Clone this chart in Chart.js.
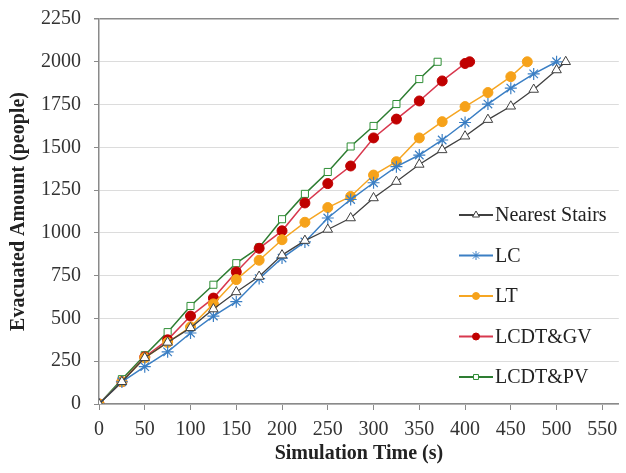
<!DOCTYPE html>
<html>
<head>
<meta charset="utf-8">
<script src="https://cdn.jsdelivr.net/npm/chart.js"></script>
<style>
  body { margin: 0; background: #fff; }
  #wrap { width: 626px; height: 473px; }
</style>
</head>
<body>
<div id="wrap"><canvas id="evac" width="626" height="473"></canvas></div>
<script>
// values (time in s, people evacuated)
const seriesNames = ["Nearest Stairs", "LC", "LT", "LCDT&GV", "LCDT&PV"];

const nsTime = [0, 25, 50, 75, 100, 125, 150, 175, 200, 225, 250, 275, 300, 325, 350, 375, 400, 425, 450, 475, 500, 510];
const nsValues = [0, 130, 270, 360, 445, 555, 655, 745, 870, 955, 1020, 1087, 1204, 1300, 1400, 1485, 1565, 1662, 1740, 1838, 1952, 2000];

const lcTime = [0, 25, 50, 75, 100, 125, 150, 175, 200, 225, 250, 275, 300, 325, 350, 375, 400, 425, 450, 475, 500];
const lcValues = [0, 130, 218, 305, 415, 514, 598, 733, 853, 947, 1087, 1195, 1293, 1387, 1455, 1543, 1645, 1753, 1846, 1929, 2000];

const ltTime = [0, 25, 50, 75, 100, 125, 150, 175, 200, 225, 250, 275, 300, 325, 350, 375, 400, 425, 450, 468];
const ltValues = [0, 130, 270, 360, 450, 585, 727, 840, 960, 1062, 1148, 1213, 1338, 1416, 1555, 1650, 1738, 1820, 1913, 2000];

const gvTime = [0, 25, 50, 75, 100, 125, 150, 175, 200, 225, 250, 275, 300, 325, 350, 375, 400, 405];
const gvValues = [0, 130, 275, 375, 514, 619, 772, 910, 1012, 1175, 1288, 1391, 1555, 1665, 1771, 1888, 1990, 2000];

const pvTime = [0, 25, 50, 75, 100, 125, 150, 175, 200, 225, 250, 275, 300, 325, 350, 370];
const pvValues = [0, 145, 285, 420, 573, 697, 823, 915, 1080, 1228, 1356, 1505, 1625, 1753, 1899, 2000];

const xTicks = { min: 0, max: 568, step: 50 };
const yTicks = { min: 0, max: 2250, step: 250 };

function pts(t, v) {
  return t.map((x, i) => ({ x: x, y: v[i] }));
}

const serif = "'Liberation Serif', 'Times New Roman', serif";

// legend drawn inside the plot, like the original
const insideLegend = {
  id: "insideLegend",
  afterDatasetsDraw(chart) {
    const ctx = chart.ctx;
    const a = chart.chartArea;
    const x0 = a.left + 360, x1 = a.left + 394;
    let y = 215;
    ctx.save();
    ctx.font = "20px " + serif;
    ctx.textBaseline = "middle";
    ctx.textAlign = "left";
    chart.data.datasets.forEach(ds => {
      ctx.strokeStyle = ds.borderColor;
      ctx.lineWidth = 2;
      ctx.beginPath();
      ctx.moveTo(x0, y);
      ctx.lineTo(x1, y);
      ctx.stroke();
      ctx.fillStyle = ds.pointBackgroundColor;
      ctx.strokeStyle = ds.pointBorderColor;
      ctx.lineWidth = 1;
      Chart.helpers.drawPoint(ctx, {
        pointStyle: ds.pointStyle,
        radius: ds.pointRadius - 1.5,
        rotation: 0,
        borderWidth: 1
      }, (x0 + x1) / 2, y);
      ctx.fillStyle = "#222";
      ctx.fillText(ds.label, x1 + 2, y + 1);
      y += 40.5;
    });
    ctx.restore();
  }
};

new Chart(document.getElementById("evac").getContext("2d"), {
  type: "line",
  data: {
    datasets: [
      {
        label: seriesNames[0], data: pts(nsTime, nsValues),
        borderColor: "#404040", borderWidth: 1.3,
        pointStyle: "triangle", pointRadius: 5.5,
        pointBackgroundColor: "#ffffff", pointBorderColor: "#404040", pointBorderWidth: 1
      },
      {
        label: seriesNames[1], data: pts(lcTime, lcValues),
        borderColor: "#3b7fc4", borderWidth: 1.5,
        pointStyle: "star", pointRadius: 6,
        pointBackgroundColor: "#3b7fc4", pointBorderColor: "#3b7fc4", pointBorderWidth: 1.2
      },
      {
        label: seriesNames[2], data: pts(ltTime, ltValues),
        borderColor: "#f6a623", borderWidth: 1.5,
        pointStyle: "circle", pointRadius: 5,
        pointBackgroundColor: "#f6a21a", pointBorderColor: "#f6a21a", pointBorderWidth: 1
      },
      {
        label: seriesNames[3], data: pts(gvTime, gvValues),
        borderColor: "#d8384e", borderWidth: 1.5,
        pointStyle: "circle", pointRadius: 5,
        pointBackgroundColor: "#c00000", pointBorderColor: "#c00000", pointBorderWidth: 1
      },
      {
        label: seriesNames[4], data: pts(pvTime, pvValues),
        borderColor: "#2e7d32", borderWidth: 1.5,
        pointStyle: "rect", pointRadius: 5,
        pointBackgroundColor: "#ffffff", pointBorderColor: "#2f8f36", pointBorderWidth: 1
      }
    ]
  },
  options: {
    responsive: false,
    animation: false,
    layout: { padding: { top: 19, right: 0, bottom: 0, left: 0 } },
    plugins: {
      legend: { display: false },
      tooltip: { enabled: false }
    },
    elements: { line: { tension: 0 } },
    scales: {
      x: {
        type: "linear",
        min: xTicks.min, max: xTicks.max,
        afterFit(s) { s.height = 69; },
        ticks: {
          stepSize: xTicks.step, includeBounds: false,
          callback: v => String(v),
          font: { family: serif, size: 20 }, color: "#333",
          padding: 8, maxRotation: 0
        },
        grid: { drawOnChartArea: false, drawTicks: true, tickLength: 6, color: "#8a8a8a" },
        border: { display: true, color: "#8a8a8a", width: 1.5 },
        title: {
          display: true, text: "Simulation Time (s)",
          font: { family: serif, size: 20, weight: "bold" }, color: "#222",
          padding: { top: 0, bottom: 7 }
        }
      },
      y: {
        min: yTicks.min, max: yTicks.max,
        afterFit(s) { s.width = 99; s.paddingTop = 0; s.paddingBottom = 0; },
        ticks: {
          stepSize: yTicks.step,
          callback: v => String(v),
          font: { family: serif, size: 20 }, color: "#333",
          padding: 13
        },
        grid: {
          color: c => (c.tick && c.tick.value === yTicks.max ? "#8a8a8a" : "#dcdcdc"),
          lineWidth: c => (c.tick && c.tick.value === yTicks.max ? 1.5 : 1),
          tickColor: "#8a8a8a", tickLength: 5
        },
        border: { display: true, color: "#8a8a8a", width: 1.5 },
        title: {
          display: true, text: "Evacuated Amount (people)",
          font: { family: serif, size: 20, weight: "bold" }, color: "#222",
          padding: { top: 7, bottom: 0 }
        }
      }
    }
  },
  plugins: [insideLegend]
});
</script>
</body>
</html>
